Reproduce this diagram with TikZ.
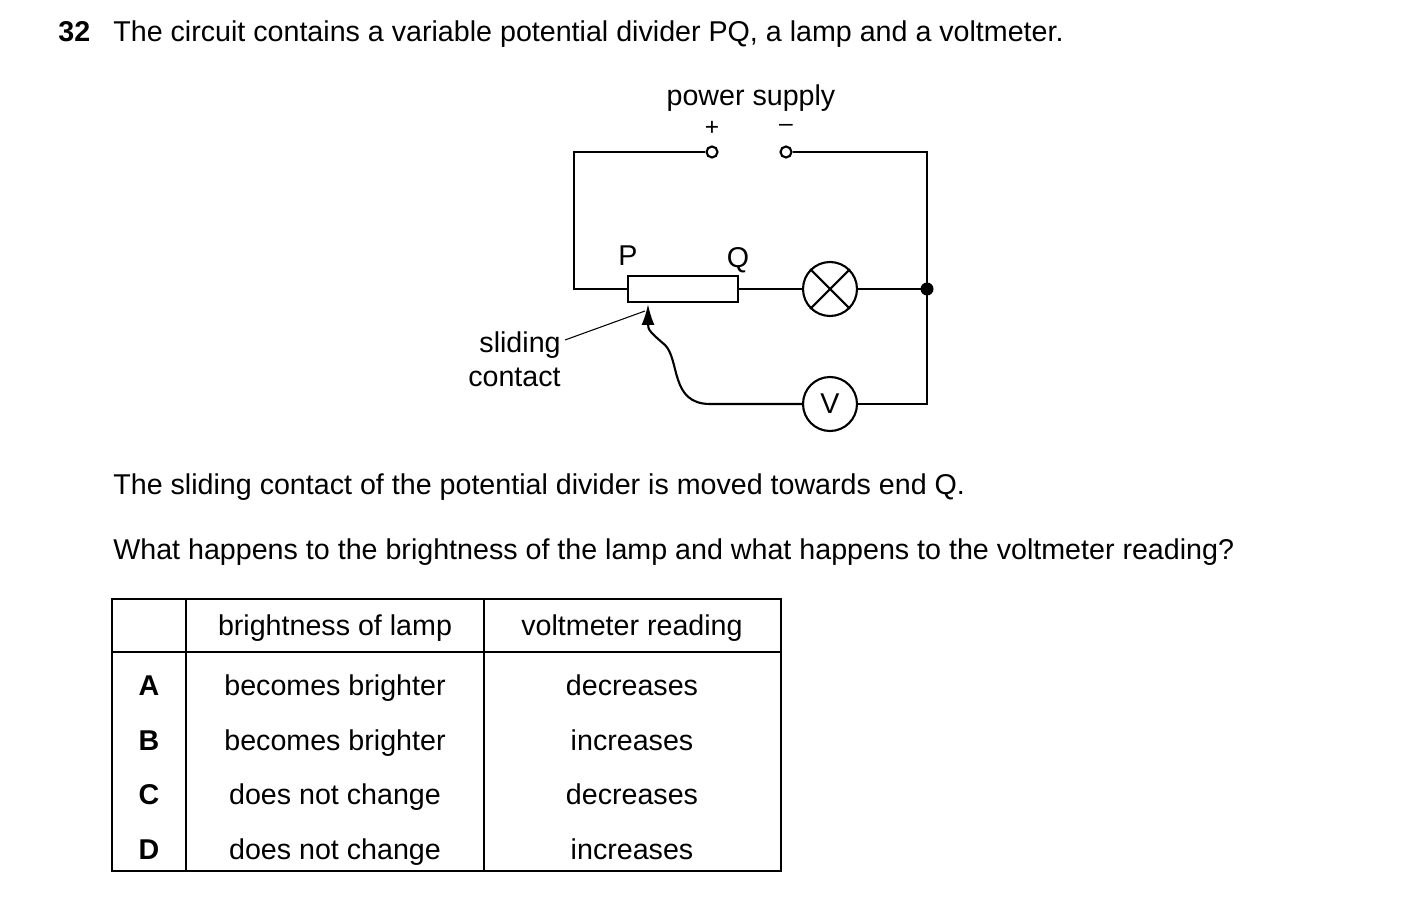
\documentclass[tikz,border=0pt]{standalone}
\usepackage{fontspec}
\setmainfont{Liberation Sans}
\usetikzlibrary{arrows.meta}
\begin{document}
\begin{tikzpicture}[x=0.02cm,y=-0.02cm,
		txt/.style={font=\fontsize{16.3}{19}\selectfont,inner sep=0pt,text height=0.72em,text depth=0.21em,yshift=-0.1cm},
		small/.style={font=\fontsize{14}{16}\selectfont,inner sep=0pt},
		wire/.style={line width=1.2pt},
		terminal/.style={circle,draw,line width=1.2pt,fill=white,minimum size=0.22cm,inner sep=0pt},
		meter/.style={circle,draw,line width=1.2pt,minimum size=1.08cm,inner sep=0pt},
		grid/.style={line width=0.8pt}
		]
	\useasboundingbox (0,0) rectangle (1403,922);
	% question text
	\node[txt,font=\fontsize{16.3}{19}\selectfont\bfseries,anchor=west](num) at (58,32){32};
	\node[txt,anchor=west](q1) at (113,32){The circuit contains a variable potential divider PQ, a lamp and a voltmeter.};
	\node[txt](ps) at (751,96){power supply};
	\node[small](plus) at (712,128){+};
	\node[small](minus) at (786,128){--};
	% circuit
	\node[terminal](tp) at (712,152){};
	\node[terminal](tm) at (786,152){};
	\draw[wire] (628,276) rectangle (738,302);
	\coordinate (Pend) at (628,289);
	\coordinate (Qend) at (738,289);
	\node[txt](P) at (628,256){P};
	\node[txt](Q) at (738,258){Q};
	\node[meter](lamp) at (830,289){};
	\draw[wire] (lamp.north west) -- (lamp.south east) (lamp.north east) -- (lamp.south west);
	\node[meter](volt) at (830,404){};
	\node[txt] at (volt){V};
	\coordinate (J) at (927,289);
	\fill (J) circle (6.5);
	\draw[wire] (tp.west) -- (574,152) -- (574,289) -- (Pend);
	\draw[wire] (Qend) -- (lamp.west);
	\draw[wire] (lamp.east) -- (J);
	\draw[wire] (tm.east) -- (927,152) -- (J) -- (927,404) -- (volt.east);
	\coordinate (tip) at (648,304);
	\draw[wire,-{Latex[length=0.42cm,width=0.26cm]}] (volt.west) -- (710,404)
		.. controls (670,404) and (680,360) .. (665,345)
		.. controls (650,332) and (648,330) .. (tip);
	% label
	\node[txt,anchor=east](sl) at (561,343){sliding};
	\node[txt,anchor=east](co) at (561,377){contact};
	\draw[line width=0.6pt] (565,340) -- (645,311);
	\node[txt,anchor=west](q2) at (113,485){The sliding contact of the potential divider is moved towards end Q.};
	\node[txt,anchor=west](q3) at (113,550){What happens to the brightness of the lamp and what happens to the voltmeter reading?};
	% table
	\draw[grid] (112,599) rectangle (781,871);
	\draw[grid] (112,652) -- (781,652);
	\draw[grid] (186,599) -- (186,871) (484,599) -- (484,871);
	\node[txt](h1) at (335,626){brightness of lamp};
	\node[txt](h2) at (632,626){voltmeter reading};
	\foreach \l/\b/\v [count=\i from 0] in {A/becomes brighter/decreases,B/becomes brighter/increases,C/does not change/decreases,D/does not change/increases}{
		\node[txt,font=\fontsize{16.3}{19}\selectfont\bfseries](L\i) at (149,686+54.6*\i){\l};
		\node[txt](B\i) at (335,686+54.6*\i){\b};
		\node[txt](V\i) at (632,686+54.6*\i){\v};
	}
\end{tikzpicture}
\end{document}
